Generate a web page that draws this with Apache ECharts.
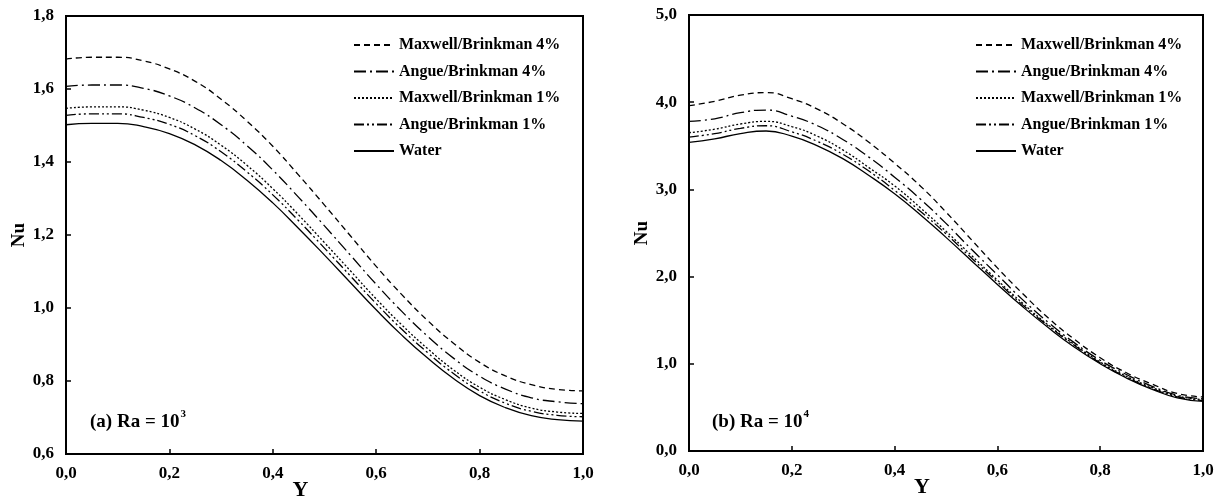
<!DOCTYPE html>
<html>
<head>
<meta charset="utf-8">
<title>Nu vs Y</title>
<script src="https://cdn.jsdelivr.net/npm/echarts@6/dist/echarts.min.js"></script>
<style>
  html, body { margin: 0; padding: 0; background: #fff; }
  #main { width: 1220px; height: 497px; }
</style>
</head>
<body>
<div id="main"></div>
<script>
  // Y positions (shared by both panels)
  var yPos = [0, 0.05, 0.1, 0.15, 0.2, 0.25, 0.3, 0.35, 0.4, 0.45, 0.5,
              0.55, 0.6, 0.65, 0.7, 0.75, 0.8, 0.85, 0.9, 0.95, 1.0];

  var seriesNames = ['Maxwell/Brinkman 4%', 'Angue/Brinkman 4%', 'Maxwell/Brinkman 1%', 'Angue/Brinkman 1%', 'Water'];

  // (a) Ra = 10^3
  var maxwell4A = [1.682, 1.687, 1.687, 1.677, 1.655, 1.621, 1.572, 1.512, 1.443, 1.364, 1.282,
                   1.198, 1.114, 1.036, 0.965, 0.903, 0.851, 0.814, 0.790, 0.777, 0.773];
  var angue4A   = [1.607, 1.611, 1.611, 1.602, 1.581, 1.548, 1.502, 1.445, 1.378, 1.303, 1.225,
                   1.145, 1.065, 0.990, 0.922, 0.862, 0.813, 0.778, 0.754, 0.743, 0.738];
  var maxwell1A = [1.547, 1.551, 1.551, 1.542, 1.522, 1.490, 1.446, 1.391, 1.327, 1.255, 1.179,
                   1.102, 1.025, 0.953, 0.888, 0.830, 0.783, 0.749, 0.726, 0.715, 0.711];
  var angue1A   = [1.528, 1.532, 1.532, 1.522, 1.503, 1.472, 1.428, 1.373, 1.310, 1.239, 1.164,
                   1.088, 1.012, 0.941, 0.877, 0.820, 0.773, 0.739, 0.717, 0.706, 0.702];
  var waterA    = [1.502, 1.506, 1.506, 1.497, 1.478, 1.447, 1.404, 1.350, 1.288, 1.218, 1.145,
                   1.070, 0.995, 0.925, 0.862, 0.806, 0.760, 0.727, 0.705, 0.694, 0.690];

  // (b) Ra = 10^4
  var maxwell4B = [3.96, 4.01, 4.08, 4.11, 4.04, 3.92, 3.75, 3.54, 3.30, 3.04, 2.74,
                   2.42, 2.10, 1.80, 1.52, 1.28, 1.07, 0.90, 0.77, 0.66, 0.62];
  var angue4B   = [3.78, 3.81, 3.88, 3.91, 3.84, 3.73, 3.57, 3.37, 3.14, 2.89, 2.61,
                   2.31, 2.02, 1.73, 1.47, 1.24, 1.04, 0.88, 0.745, 0.64, 0.60];
  var maxwell1B = [3.65, 3.69, 3.75, 3.78, 3.72, 3.61, 3.45, 3.25, 3.04, 2.79, 2.52,
                   2.24, 1.96, 1.69, 1.44, 1.22, 1.02, 0.86, 0.73, 0.63, 0.59];
  var angue1B   = [3.60, 3.64, 3.70, 3.73, 3.66, 3.55, 3.40, 3.21, 2.99, 2.75, 2.49,
                   2.21, 1.94, 1.67, 1.43, 1.21, 1.01, 0.85, 0.72, 0.62, 0.58];
  var waterB    = [3.54, 3.58, 3.64, 3.67, 3.61, 3.50, 3.35, 3.16, 2.95, 2.71, 2.45,
                   2.18, 1.91, 1.65, 1.41, 1.19, 1.00, 0.84, 0.71, 0.61, 0.57];

  var dataA = [maxwell4A, angue4A, maxwell1A, angue1A, waterA];
  var dataB = [maxwell4B, angue4B, maxwell1B, angue1B, waterB];

  // dash pattern for each curve
  var dashes = [[6, 4], [12, 4, 2, 4], [2, 2], [10, 3, 2, 3, 2, 3], 'solid'];

  var serif = '"Liberation Serif", "DejaVu Serif", serif';

  function comma(v) {
    return v.toFixed(1).replace('.', ',');
  }

  function pairs(arr) {
    var out = [];
    for (var i = 0; i < arr.length; i++) {
      out.push([yPos[i], arr[i]]);
    }
    return out;
  }

  var series = [];
  [dataA, dataB].forEach(function (set, g) {
    set.forEach(function (arr, i) {
      series.push({
        name: seriesNames[i],
        type: 'line',
        xAxisIndex: g,
        yAxisIndex: g,
        data: pairs(arr),
        smooth: true,
        symbol: 'none',
        lineStyle: { color: '#000', width: 1.3, type: dashes[i] },
        itemStyle: { color: '#000' }
      });
    });
  });

  function xAxisOpt(g) {
    return {
      type: 'value', gridIndex: g, min: 0, max: 1, interval: 0.2,
      name: 'Y', nameLocation: 'middle', nameGap: 25, nameMoveOverlap: false,
      nameTextStyle: { fontFamily: serif, fontWeight: 'bold', fontSize: 22, color: '#000', padding: [0, 48, 0, 0] },
      axisLine: { lineStyle: { color: '#000', width: 2 } },
      axisTick: { inside: true, length: 5, lineStyle: { color: '#000', width: 1.5 } },
      axisLabel: { formatter: comma, fontFamily: serif, fontWeight: 'bold', fontSize: 17, color: '#000', margin: 11 },
      splitLine: { show: false }
    };
  }

  function yAxisOpt(g, min, max, step) {
    return {
      type: 'value', gridIndex: g, min: min, max: max, interval: step,
      name: 'Nu', nameLocation: 'middle', nameGap: 37, nameRotate: 90, nameMoveOverlap: false,
      nameTextStyle: { fontFamily: serif, fontWeight: 'bold', fontSize: 19, color: '#000' },
      axisLine: { show: true, lineStyle: { color: '#000', width: 2 } },
      axisTick: { show: true, inside: true, length: 5, lineStyle: { color: '#000', width: 1.5 } },
      axisLabel: { formatter: comma, fontFamily: serif, fontWeight: 'bold', fontSize: 17, color: '#000', margin: 12 },
      splitLine: { show: false }
    };
  }

  function legendOpt(left) {
    return {
      data: seriesNames, orient: 'vertical', left: left, top: 32,
      itemWidth: 40, itemHeight: 14, itemGap: 10.5, selectedMode: false,
      itemStyle: { opacity: 0 },
      textStyle: { fontFamily: serif, fontWeight: 'bold', fontSize: 16, color: '#000' }
    };
  }

  function note(x, label, pow) {
    return {
      type: 'text', left: x, top: 409,
      style: {
        text: '{a|' + label + '}{s|' + pow + '}',
        rich: {
          a: { fontFamily: serif, fontWeight: 'bold', fontSize: 19, fill: '#000', verticalAlign: 'bottom' },
          s: { fontFamily: serif, fontWeight: 'bold', fontSize: 11, fill: '#000', verticalAlign: 'bottom', padding: [0, 0, 12, 1] }
        }
      }
    };
  }

  var chart = echarts.init(document.getElementById('main'));
  chart.setOption({
    animation: false,
    backgroundColor: '#fff',
    grid: [
      { left: 66, top: 16, width: 517, height: 438, show: true, borderColor: '#000', borderWidth: 2, outerBoundsMode: 'none' },
      { left: 689, top: 15, width: 514, height: 436, show: true, borderColor: '#000', borderWidth: 2, outerBoundsMode: 'none' }
    ],
    xAxis: [xAxisOpt(0), xAxisOpt(1)],
    yAxis: [yAxisOpt(0, 0.6, 1.8, 0.2), yAxisOpt(1, 0, 5, 1)],
    legend: [legendOpt(348), legendOpt(970)],
    graphic: [note(90, '(a) Ra = 10', '3'), note(712, '(b) Ra = 10', '4')],
    series: series
  });
</script>
</body>
</html>
